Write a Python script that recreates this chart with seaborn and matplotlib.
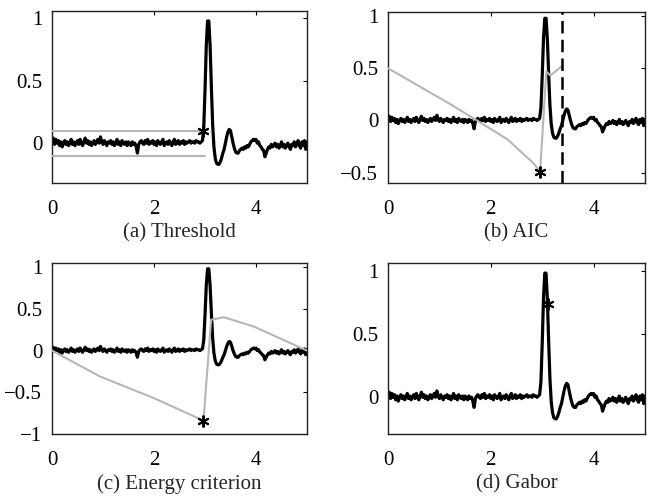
import numpy as np
import matplotlib
matplotlib.use("Agg")
import matplotlib.pyplot as plt
import seaborn as sns

# ---------------- data ----------------
dt = 0.025
signal = [
    # 0.0 - 0.475
    0.02, 0.04, -0.01, 0.03, 0.00, 0.02, -0.02, 0.01, -0.03, 0.00,
    0.02, -0.01, 0.01, -0.02, 0.00, 0.03, -0.01, 0.01, -0.02, 0.00,
    # 0.5 - 0.975
    0.02, -0.01, 0.03, 0.00, -0.02, 0.01, 0.04, 0.00, 0.02, -0.01,
    0.01, -0.02, 0.00, 0.02, -0.01, 0.01, 0.03, 0.00, 0.05, 0.01,
    # 1.0 - 1.475
    -0.01, 0.02, 0.00, -0.02, 0.01, 0.00, 0.02, -0.01, 0.01, -0.02,
    0.00, 0.03, -0.01, 0.01, -0.02, 0.02, 0.00, -0.01, 0.01, -0.02,
    # 1.5 - 1.975
    0.01, 0.00, -0.02, 0.01, -0.01, 0.00, -0.03, -0.08, -0.01, 0.01,
    0.02, 0.00, -0.01, 0.02, 0.00, 0.03, -0.01, 0.01, 0.00, 0.02,
    # 2.0 - 2.475
    -0.01, 0.01, -0.02, 0.02, 0.00, -0.01, 0.01, 0.03, -0.02, 0.00,
    0.01, -0.01, 0.02, 0.00, -0.02, 0.01, 0.03, -0.01, 0.00, 0.02,
    # 2.5 - 2.975
    -0.01, 0.01, 0.00, 0.02, -0.01, 0.01, 0.00, 0.01, 0.02, 0.00,
    0.01, 0.01, 0.00, 0.02, 0.01, 0.01, 0.00, 0.01, 0.02, 0.12,
    # 3.0 - 3.475
    0.42, 0.78, 0.98, 0.98, 0.78, 0.45, 0.15, -0.03, -0.12, -0.16,
    -0.17, -0.17, -0.15, -0.12, -0.08, -0.05, 0.00, 0.05, 0.09, 0.11,
    # 3.5 - 3.975
    0.10, 0.05, 0.00, -0.04, -0.07, -0.08, -0.08, -0.06, -0.05, -0.04,
    -0.05, -0.03, -0.04, -0.02, -0.03, -0.01, 0.01, 0.02, 0.03, 0.02,
    # 4.0 - 4.475
    0.03, 0.00, 0.01, -0.02, -0.03, -0.05, -0.06, -0.11, -0.08, -0.05,
    -0.03, -0.04, -0.01, -0.03, -0.02, 0.00, -0.03, -0.01, -0.04, -0.02,
    # 4.5 - 5.0
    0.01, -0.03, -0.01, -0.04, -0.02, 0.00, -0.03, -0.05, -0.01, -0.02,
    0.01, -0.03, -0.01, 0.02, -0.02, -0.04, 0.01, -0.02, 0.02, -0.05,
    0.01,
]

thr_x = [0.0, 3.0]
thr_upper = [0.1, 0.1]
thr_lower = [-0.1, -0.1]
thr_pick = (2.96, 0.1)

aic_x = [0.0, 0.6, 1.2, 1.73, 2.32, 2.83, 2.96, 3.08, 3.16, 3.38]
aic_y = [0.5, 0.33, 0.16, 0.0, -0.18, -0.41, -0.49, 0.47, 0.43, 0.52]
aic_pick = (2.96, -0.49)
aic_dashed_x = 3.39

en_x = [0.0, 0.94, 2.0, 2.97, 3.12, 3.37, 3.95, 5.0]
en_y = [0.0, -0.31, -0.57, -0.84, 0.37, 0.40, 0.29, 0.0]
en_pick = (2.96, -0.84)

gabor_pick = (3.12, 0.74)

x_ticks = [0, 2, 4]
x_labels = ["0", "2", "4"]
captions = ["(a) Threshold", "(b) AIC", "(c) Energy criterion", "(d) Gabor"]
y_ticks = {
    "a": ([0, 0.5, 1], ["0", "0.5", "1"]),
    "b": ([-0.5, 0, 0.5, 1], ["\u22120.5", "0", "0.5", "1"]),
    "c": ([-1, -0.5, 0, 0.5, 1], ["\u22121", "\u22120.5", "0", "0.5", "1"]),
    "d": ([0, 0.5, 1], ["0", "0.5", "1"]),
}
y_lims = {"a": (-0.32, 1.06), "b": (-0.6, 1.04), "c": (-1.0, 1.05), "d": (-0.29, 1.06)}

# ---------------- style ----------------
sns.set_theme(style="white")
plt.rcParams["font.family"] = ["Liberation Serif", "DejaVu Serif"]
plt.rcParams["axes.unicode_minus"] = True

W, H = 651, 497
fig = plt.figure(figsize=(W / 100, H / 100), dpi=100)

boxes = {  # left, top, right, bottom in pixels
    "a": (52, 11, 307, 183),
    "b": (388, 12, 645, 183),
    "c": (52, 263, 307, 434),
    "d": (388, 263, 645, 434),
}

t = np.arange(len(signal)) * dt
gray = "#b6b6b6"
FS = 15
STAR = dict(marker=(6, 2, 0), color="black", markersize=8.5, markeredgewidth=1.4,
            linestyle="none")

axes = {}
for i, key in enumerate(["a", "b", "c", "d"]):
    l, tp, r, b = boxes[key]
    ax = fig.add_axes([l / W, 1 - b / H, (r - l) / W, (b - tp) / H])
    axes[key] = ax
    sns.lineplot(x=t, y=signal, ax=ax, color="black", linewidth=2.3,
                 estimator=None, sort=False, zorder=2)
    ax.set_xlim(0, 5)
    ax.set_ylim(*y_lims[key])
    ax.set_xticks(x_ticks)
    ax.set_xticklabels(x_labels)
    ax.set_yticks(y_ticks[key][0])
    ax.set_yticklabels(y_ticks[key][1])
    ax.tick_params(axis="both", direction="in", length=3, width=0.8, top=True,
                   right=True, labelsize=FS, colors="black")
    ax.tick_params(axis="x", pad=12)
    ax.tick_params(axis="y", pad=7)
    for s in ax.spines.values():
        s.set_color("#222222")
        s.set_linewidth(1.0)
    ax.set_xlabel(captions[i], fontsize=FS, labelpad=3)
    ax.set_ylabel("")

# (a) threshold
ax = axes["a"]
sns.lineplot(x=thr_x, y=thr_upper, ax=ax, color=gray, linewidth=1.5, estimator=None, zorder=3)
sns.lineplot(x=thr_x, y=thr_lower, ax=ax, color=gray, linewidth=1.5, estimator=None, zorder=3)
ax.plot(*thr_pick, zorder=4, **STAR)

# (b) AIC
ax = axes["b"]
sns.lineplot(x=aic_x, y=aic_y, ax=ax, color=gray, linewidth=1.5, estimator=None,
             sort=False, zorder=3)
ax.axvline(aic_dashed_x, color="black", linewidth=1.8, linestyle=(0, (5, 2.5)), zorder=4)
ax.plot(*aic_pick, zorder=5, **STAR)

# (c) energy
ax = axes["c"]
sns.lineplot(x=en_x, y=en_y, ax=ax, color=gray, linewidth=1.5, estimator=None,
             sort=False, zorder=3)
ax.plot(*en_pick, zorder=5, **STAR)

# (d) Gabor
ax = axes["d"]
ax.plot(*gabor_pick, zorder=5, **STAR)

for ax in axes.values():
    if ax.get_legend() is not None:
        ax.get_legend().remove()

fig.savefig("out.png", dpi=100, facecolor="white")
